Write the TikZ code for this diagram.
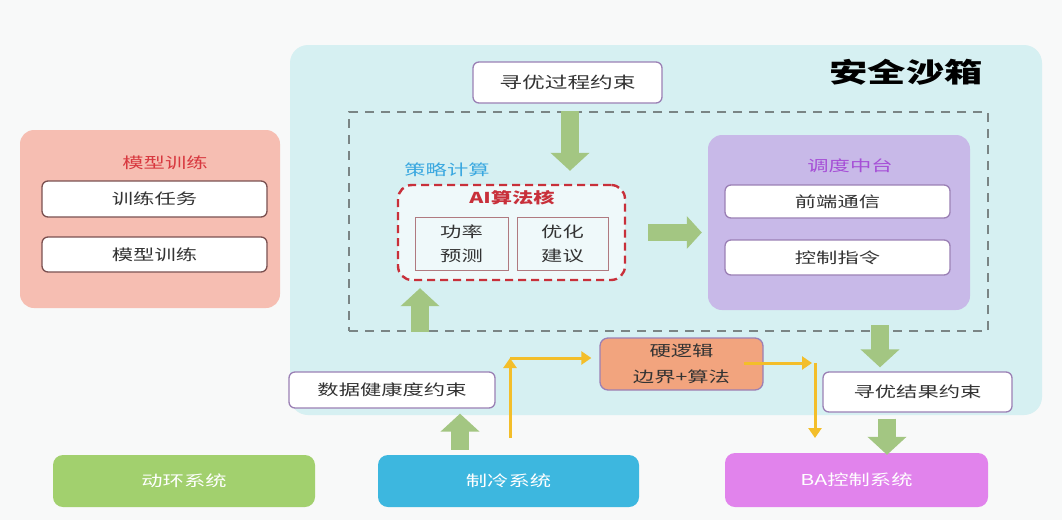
\documentclass[tikz,border=0pt]{standalone}
\usepackage{fontspec}
\setmainfont{Noto Sans CJK SC}[FakeStretch=1.42]
\usetikzlibrary{arrows.meta,calc}
\definecolor{bgc}{HTML}{F8F9F9}
\definecolor{sandc}{HTML}{D6F0F2}
\definecolor{salmon}{HTML}{F6BEB2}
\definecolor{lilac}{HTML}{C8B9E8}
\definecolor{orangec}{HTML}{F2A47E}
\definecolor{garc}{HTML}{A3C682}
\definecolor{dhgreen}{HTML}{A2D06E}
\definecolor{coolblue}{HTML}{3DB7DF}
\definecolor{bapink}{HTML}{E183EC}
\definecolor{pborder}{HTML}{9B80B5}
\definecolor{dborder}{HTML}{7A5050}
\definecolor{rborder}{HTML}{B07A80}
\definecolor{dashgrey}{HTML}{7A8585}
\definecolor{txt}{HTML}{333333}
\definecolor{redt}{HTML}{D8383F}
\definecolor{bluet}{HTML}{3AA8E0}
\definecolor{purt}{HTML}{A64FD6}
\definecolor{ycol}{HTML}{F3BE2A}
\definecolor{airc}{HTML}{C8303A}
\begin{document}
\begin{tikzpicture}[x=1pt,y=-1pt,
  every node/.style={font=\fontsize{15}{18}\selectfont, text=txt, inner sep=0pt},
  panel/.style={fill=#1, rounded corners=14pt},
  wbox/.style={draw=#1, fill=white, rounded corners=6pt, line width=1.3pt},
  sysbox/.style={fill=#1, rounded corners=10pt, text=white},
  garrow/.style={draw=garc, line width=18pt, -{Triangle[width=38pt,length=18pt]}},
  garrowb/.style={draw=garc, line width=17pt, -{Triangle[width=32pt,length=15pt]}},
  yarrow/.style={draw=ycol, line width=3pt, -{Triangle[width=13pt,length=10pt]}}]
\useasboundingbox (0,0) rectangle (1062,520);
\fill[bgc] (0,0) rectangle (1062,520);

% sandbox
\node[panel=sandc, rounded corners=18pt, minimum width=752pt, minimum height=370pt] (sand) at (666,230) {};
\node[font=\fontsize{27}{30}\selectfont\bfseries, text=black] (sandt) at (906,72) {安全沙箱};

% model training panel
\node[panel=salmon, minimum width=260pt, minimum height=178pt] (mpanel) at (150,219) {};
\node[text=redt] (mtitle) at (165,163) {模型训练};
\node[wbox=dborder, minimum width=225pt, minimum height=36pt] (task) at (154.5,199) {训练任务};
\node[wbox=dborder, minimum width=225pt, minimum height=35pt] (mtrain) at (154.5,254.5) {模型训练};

% top constraint
\node[wbox=pborder, minimum width=189pt, minimum height=41pt, font=\fontsize{16}{18}\selectfont] (topc) at (567.5,82.5) {寻优过程约束};

% dashed region
\node[draw=dashgrey, dash pattern=on 9pt off 7pt, line width=1.8pt, minimum width=639pt, minimum height=219pt] (dash) at (668.5,221.5) {};

% strategy computation
\node[text=bluet] (strat) at (447,170) {策略计算};
\node[draw=airc, dash pattern=on 8pt off 5pt, line width=2.4pt, rounded corners=14pt, fill=sandc!40!white, minimum width=227pt, minimum height=95pt] (ai) at (511.5,232.5) {};
\node[text=airc, font=\fontsize{15}{18}\selectfont\bfseries] (ait) at (512,198) {AI算法核};
\node[draw=rborder, fill=white!60!sandc, line width=1pt, minimum width=93pt, minimum height=53pt, align=center, font=\fontsize{15}{24}\selectfont] (power) at (461.5,243.5) {功率\\预测};
\node[draw=rborder, fill=white!60!sandc, line width=1pt, minimum width=91pt, minimum height=53pt, align=center, font=\fontsize{15}{24}\selectfont] (advice) at (562.5,243.5) {优化\\建议};

% scheduling platform
\node[panel=lilac, minimum width=262pt, minimum height=175pt] (sched) at (839,222.5) {};
\node[text=purt] (schedt) at (850,166) {调度中台};
\node[wbox=pborder, minimum width=225pt, minimum height=33pt] (front) at (837.5,201.5) {前端通信};
\node[wbox=pborder, minimum width=225pt, minimum height=35pt] (ctrl) at (837.5,257.5) {控制指令};

% hard logic
\node[fill=orangec, draw=pborder, line width=1.3pt, rounded corners=8pt, minimum width=163pt, minimum height=52pt, align=center, font=\fontsize{15}{26}\selectfont] (hard) at (681.5,364) {硬逻辑\\边界+算法};

% constraints
\node[wbox=pborder, minimum width=206pt, minimum height=36pt] (health) at (392,390) {数据健康度约束};
\node[wbox=pborder, minimum width=189pt, minimum height=40pt] (result) at (917.5,392) {寻优结果约束};

% bottom systems
\node[sysbox=dhgreen, minimum width=262pt, minimum height=52pt] (dh) at (184,481) {动环系统};
\node[sysbox=coolblue, minimum width=261pt, minimum height=52pt] (cool) at (508.5,481) {制冷系统};
\node[sysbox=bapink, minimum width=263pt, minimum height=54pt] (ba) at (856.5,480) {BA控制系统};

% green arrows
\draw[garrow] ($(dash.north -| topc.south)+(2.5,0)$) -- ($(ai.north -| topc.south)+(2.5,-13)$);
\draw[garrowb] ($(ai.east)+(22,0)$) -- ($(sched.west |- ai.east)+(-6,0)$);
\draw[garrow] ($(ai.south |- dash.south)+(-91.5,0)$) -- ($(ai.south)+(-91.5,7)$);
\draw[garrow] ($(cool.north)+(-48.5,-5)$) -- ($(health.south -| cool.north)+(-48.5,5)$);
\draw[garrow] ($(sched.south)+(41,15)$) -- ($(result.north -| sched.south)+(41,-4)$);
\draw[garrow] ($(result.south)+(-30.5,6)$) -- ($(ba.north -| result.south)+(-30.5,2)$);

% yellow arrows
\coordinate (ybot) at (510,438);
\coordinate (ytop) at (510,358);
\draw[yarrow] (ybot) -- (ytop);
\draw[yarrow] (ytop) -- ($(hard.west |- ytop)+(-8,0)$);
\coordinate (rc) at (815,363);
\coordinate (rb) at (815,438);
\draw[yarrow] ($(hard.east |- rc)+(-20,0)$) -- ($(rc)+(-3,0)$);
\draw[yarrow] (rc) -- (rb);
\end{tikzpicture}
\end{document}
